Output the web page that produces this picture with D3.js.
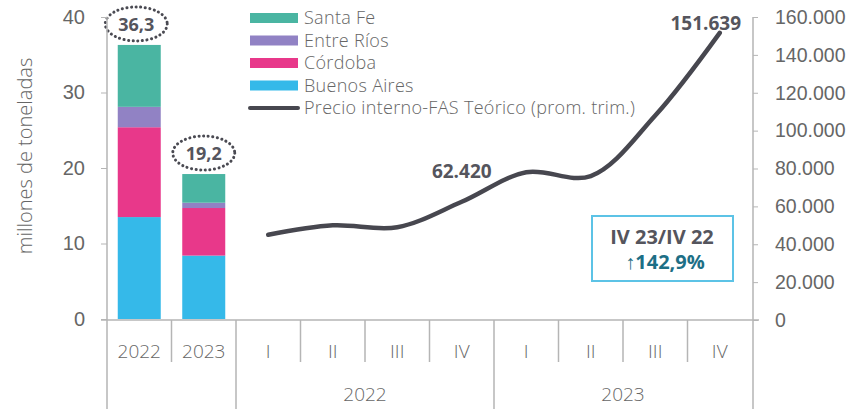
<!DOCTYPE html>
<html>
<head>
<meta charset="utf-8">
<script src="https://cdn.jsdelivr.net/npm/d3@7"></script>
<style>
	body { margin: 0; background: #fff; }
	svg { font-family: "Open Sans", sans-serif; }
</style>
</head>
<body>
<script>
/******************/
/*     data       */
/******************/
var years = ["2022", "2023"];
var quarters = ["I", "II", "III", "IV", "I", "II", "III", "IV"];
var quarterYears = ["2022", "2023"];
var provinces = ["Buenos Aires", "Córdoba", "Entre Ríos", "Santa Fe"];
var buenosAires = [13.5, 8.4];
var cordoba = [11.9, 6.3];
var entreRios = [2.7, 0.7];
var santaFe = [8.2, 3.8];
var totals = ["36,3", "19,2"];
var price = [45000, 50000, 49000, 62420, 78000, 76000, 108000, 151639];
var priceLabels = [null, null, null, "62.420", null, null, null, "151.639"];
var leftTicks = [0, 10, 20, 30, 40];
var rightTicks = [0, 20000, 40000, 60000, 80000, 100000, 120000, 140000, 160000];
var colors = {"Buenos Aires": "#35b9e9", "Córdoba": "#e8388a", "Entre Ríos": "#9182c4", "Santa Fe": "#4ab5a2"};
var lineColor = "#47474f";

var W = 856, H = 409;
var svg = d3.select("body").append("svg").attr("width", W).attr("height", H);

// one band for each bar and each quarter
var cats = years.concat(quarters.map(function(q, i) { return q + "_" + i; }));
var x = d3.scaleBand().domain(cats).range([107, 752]);
var yL = d3.scaleLinear().domain([0, 40]).range([319, 17]);
var yR = d3.scaleLinear().domain([0, 160000]).range([320, 17]);
var loc = d3.formatLocale({decimal: ",", thousands: ".", grouping: [3], currency: ["$", ""]});

/******************/
/*    bars        */
/******************/
var table = years.map(function(y, i) {
	return {year: y, "Buenos Aires": buenosAires[i], "Córdoba": cordoba[i], "Entre Ríos": entreRios[i], "Santa Fe": santaFe[i]};
});
var series = d3.stack().keys(provinces)(table);
var bw = 43;
series.forEach(function(s) {
	svg.selectAll(null).data(s).enter().append("rect")
		.attr("x", function(d) { return x(d.data.year) + (x.bandwidth() - bw) / 2; })
		.attr("y", function(d) { return yL(d[1]); })
		.attr("width", bw)
		.attr("height", function(d) { return yL(d[0]) - yL(d[1]); })
		.attr("fill", colors[s.key]);
});
// totals with dotted ellipses
table.forEach(function(d, i) {
	var top = d3.sum(provinces, function(k) { return d[k]; });
	var cx = x(d.year) + x.bandwidth() / 2 + (i === 0 ? -3 : 0);
	var cy = yL(top) - 21;
	svg.append("ellipse").attr("cx", cx).attr("cy", cy).attr("rx", 31).attr("ry", 17)
		.attr("fill", "none").attr("stroke", "#4a4a52").attr("stroke-width", 3)
		.attr("stroke-dasharray", "0.1,4.5").attr("stroke-linecap", "round");
	svg.append("text").attr("x", cx).attr("y", cy + 7).attr("text-anchor", "middle")
		.attr("font-size", 18).attr("font-weight", "bold").attr("fill", "#55555d").text(totals[i]);
});

/******************/
/*    axes        */
/******************/
var gL = svg.append("g").attr("transform", "translate(107,0)")
	.call(d3.axisLeft(yL).tickValues(leftTicks).tickSize(6).tickPadding(16));
gL.select(".domain").remove();
gL.selectAll("line").attr("stroke", "#b5b5b5");
gL.selectAll("text").attr("font-size", 20).attr("fill", "#666").attr("font-weight", 300);

var gR = svg.append("g").attr("transform", "translate(753,0)")
	.call(d3.axisRight(yR).tickValues(rightTicks).tickSize(5).tickPadding(17).tickFormat(loc.format(",.0f")));
gR.select(".domain").remove();
gR.selectAll("line").attr("stroke", "#b5b5b5");
gR.selectAll("text").attr("font-size", 19.5).attr("fill", "#666").attr("font-weight", 300);

svg.append("line").attr("x1", 107).attr("x2", 107).attr("y1", 17).attr("y2", H).attr("stroke", "#b5b5b5").attr("stroke-width", 1.5);
svg.append("line").attr("x1", 753).attr("x2", 753).attr("y1", 17).attr("y2", H).attr("stroke", "#b5b5b5").attr("stroke-width", 1.5);
svg.append("line").attr("x1", 101).attr("x2", 759).attr("y1", 320).attr("y2", 320).attr("stroke", "#b5b5b5").attr("stroke-width", 1.5);

// separators between categories
var longIdx = [2, 6];
d3.range(1, cats.length).forEach(function(i) {
	var xx = x.range()[0] + i * x.step();
	var isLong = longIdx.indexOf(i) >= 0;
	svg.append("line").attr("x1", xx).attr("x2", xx).attr("y1", 320).attr("y2", isLong ? H : 362)
		.attr("stroke", "#b5b5b5").attr("stroke-width", 1.5);
});
// category labels
cats.forEach(function(c, i) {
	svg.append("text").attr("x", x(c) + x.bandwidth() / 2).attr("y", 358).attr("text-anchor", "middle")
		.attr("font-size", 19).attr("fill", "#666").attr("font-weight", 300)
		.text(i < 2 ? c : quarters[i - 2]);
});
quarterYears.forEach(function(y, i) {
	var x0 = x(cats[2 + i * 4]), x1 = x(cats[5 + i * 4]) + x.bandwidth();
	svg.append("text").attr("x", (x0 + x1) / 2).attr("y", 401).attr("text-anchor", "middle")
		.attr("font-size", 19).attr("fill", "#666").attr("font-weight", 300).text(y);
});

// y axis title
svg.append("text").attr("transform", "translate(32,156) rotate(-90)").attr("text-anchor", "middle")
	.attr("font-size", 20).attr("fill", "#666").attr("font-weight", 300).text("millones de toneladas");

/******************/
/*    line        */
/******************/
var qx = function(d, i) { return x(cats[i + 2]) + x.bandwidth() / 2; };
var line = d3.line().x(qx).y(function(d) { return yR(d); }).curve(d3.curveCatmullRom.alpha(0.5));
svg.append("path").datum(price).attr("d", line).attr("fill", "none")
	.attr("stroke", lineColor).attr("stroke-width", 4.5).attr("stroke-linecap", "round");
price.forEach(function(v, i) {
	if (!priceLabels[i]) return;
	var last = i === price.length - 1;
	svg.append("text").attr("x", qx(v, i) + (last ? -14 : 0)).attr("y", last ? 30 : 178)
		.attr("text-anchor", "middle").attr("font-size", 19).attr("font-weight", "bold")
		.attr("fill", "#55555d").text(priceLabels[i]);
});

/******************/
/*    legend      */
/******************/
var legendItems = ["Santa Fe", "Entre Ríos", "Córdoba", "Buenos Aires"];
legendItems.forEach(function(k, i) {
	var cy = 18 + i * 22.5;
	svg.append("rect").attr("x", 250).attr("y", cy - 5).attr("width", 48).attr("height", 10).attr("fill", colors[k]);
	svg.append("text").attr("x", 304).attr("y", cy + 6).attr("font-size", 18).attr("letter-spacing", 0.3)
		.attr("fill", "#666").attr("font-weight", 300).text(k);
});
svg.append("line").attr("x1", 250).attr("x2", 298).attr("y1", 108).attr("y2", 108)
	.attr("stroke", lineColor).attr("stroke-width", 4).attr("stroke-linecap", "round");
svg.append("text").attr("x", 304).attr("y", 114).attr("font-size", 18).attr("letter-spacing", 0.3)
	.attr("fill", "#666").attr("font-weight", 300)
	.text("Precio interno-FAS Teórico (prom. trim.)");

/******************/
/*    note box    */
/******************/
svg.append("rect").attr("x", 592).attr("y", 216).attr("width", 141).attr("height", 65)
	.attr("fill", "#fff").attr("stroke", "#5cc3e6").attr("stroke-width", 2);
svg.append("text").attr("x", 662).attr("y", 244).attr("text-anchor", "middle").attr("font-size", 20)
	.attr("font-weight", "bold").attr("fill", "#55555d").text("IV 23/IV 22");
svg.append("text").attr("x", 665).attr("y", 269).attr("text-anchor", "middle").attr("font-size", 20)
	.attr("font-weight", "bold").attr("fill", "#1d6f86").text("↑142,9%");
</script>
</body>
</html>
